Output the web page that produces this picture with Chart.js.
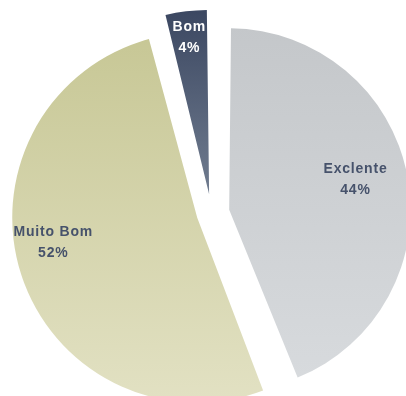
<!DOCTYPE html>
<html>
<head>
<meta charset="utf-8">
<script src="https://cdn.jsdelivr.net/npm/chart.js@4/dist/chart.umd.min.js"></script>
<style>
  html, body { margin: 0; padding: 0; background: #ffffff; }
  #wrap { width: 406px; height: 396px; }
</style>
</head>
<body>
<div id="wrap"><canvas id="c" width="406" height="396"></canvas></div>
<script>
// ---- data ----
const categories = ['Exclente', 'Muito Bom', 'Bom'];
const values = [44, 52, 4];
const percentLabels = ['44%', '52%', '4%'];

// ---- styles ----
const gradientTop = ['#c4c7ca', '#c7c795', '#3b4761'];
const gradientBottom = ['#d8dbde', '#e2e1c3', '#707c8f'];
const explodeOffsets = [72, 60, 76];
const labelColors = ['#46526b', '#46526b', '#ffffff'];
const labelRadiusFactor = [0.87, 0.947, 1.04];
const labelAngleShiftDeg = [-2.4, 7.3, 0];

function sliceGradient(context) {
  const chart = context.chart;
  const area = chart.chartArea;
  const i = context.dataIndex;
  if (!area) return gradientTop[i];
  const cy = (area.top + area.bottom) / 2;
  const r = 185;
  const y0 = cy - r;
  const y1 = i === 2 ? cy : cy + r;
  const g = chart.ctx.createLinearGradient(0, y0, 0, y1);
  g.addColorStop(0, gradientTop[i]);
  g.addColorStop(1, gradientBottom[i]);
  return g;
}

const labelPlugin = {
  id: 'sliceLabels',
  afterDatasetsDraw(chart) {
    const ctx = chart.ctx;
    const meta = chart.getDatasetMeta(0);
    ctx.save();
    ctx.font = 'bold 14px "Liberation Sans", Arial, sans-serif';
    ctx.textAlign = 'center';
    ctx.textBaseline = 'middle';
    if ('letterSpacing' in ctx) ctx.letterSpacing = '0.8px';
    meta.data.forEach((arc, i) => {
      const p = arc.getProps(['x', 'y', 'startAngle', 'endAngle', 'outerRadius']);
      const mid = (p.startAngle + p.endAngle) / 2 + labelAngleShiftDeg[i] * Math.PI / 180;
      const rr = p.outerRadius * labelRadiusFactor[i];
      const lx = p.x + Math.cos(mid) * rr;
      const ly = p.y + Math.sin(mid) * rr;
      ctx.fillStyle = labelColors[i];
      ctx.fillText(categories[i], lx, ly - 10.5);
      ctx.fillText(percentLabels[i], lx, ly + 10.5);
    });
    ctx.restore();
  }
};

new Chart(document.getElementById('c'), {
  type: 'pie',
  data: {
    labels: categories,
    datasets: [{
      data: values,
      backgroundColor: sliceGradient,
      borderWidth: 0,
      offset: explodeOffsets,
      hoverOffset: 0,
      clip: false
    }]
  },
  options: {
    responsive: false,
    animation: false,
    radius: 170,
    layout: { padding: { left: 17, top: 30, right: 0, bottom: 0 } },
    plugins: {
      legend: { display: false },
      tooltip: { enabled: false }
    },
    events: []
  },
  plugins: [labelPlugin]
});
</script>
</body>
</html>
